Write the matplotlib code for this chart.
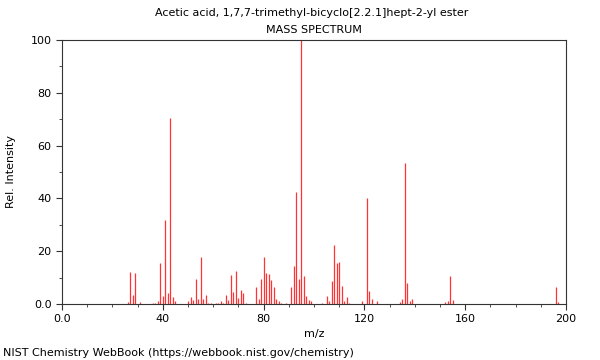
import matplotlib
matplotlib.use("Agg")
import matplotlib.pyplot as plt
from matplotlib.ticker import MultipleLocator, FixedFormatter, FixedLocator

title = "Acetic acid, 1,7,7-trimethyl-bicyclo[2.2.1]hept-2-yl ester"

mz = [26, 27, 28, 29, 31, 36, 37, 38, 39, 40, 41, 42, 43, 44, 45,
      50, 51, 52, 53, 54, 55, 56, 57, 58, 59, 61, 62, 63, 64, 65, 66, 67, 68, 69, 70, 71, 72, 73,
      77, 78, 79, 80, 81, 82, 83, 84, 85, 86, 87, 89, 91, 92, 93, 94, 95, 96, 97, 98, 99,
      103, 105, 106, 107, 108, 109, 110, 111, 112, 113, 114, 119, 121, 122, 123, 125,
      134, 135, 136, 137, 138, 139, 152, 153, 154, 155, 196, 197]
intensity = [0.8, 12.3, 3.4, 11.6, 0.8, 0.3, 0.5, 1.0, 15.6, 3.2, 32.0, 4.3, 70.5, 2.5, 1.1,
             1.1, 2.8, 1.5, 9.5, 1.9, 17.9, 2.0, 3.4, 0.4, 0.5, 0.4, 0.4, 1.0, 0.5, 3.4, 1.5, 11.0, 4.5, 12.5, 2.4, 5.3, 4.2, 0.4,
             6.6, 1.8, 9.5, 17.9, 11.6, 11.2, 9.1, 6.6, 2.0, 1.0, 0.5, 0.4, 6.3, 14.5, 42.4, 9.3, 100.0, 10.6, 3.0, 1.5, 1.3,
             0.5, 3.0, 1.0, 8.6, 22.3, 15.4, 16.0, 6.8, 1.0, 2.8, 0.4, 1.0, 40.0, 5.0, 2.0, 1.0,
             0.8, 1.9, 53.5, 8.0, 1.0, 2.0, 0.6, 1.0, 10.6, 1.5, 6.4, 0.8]

fig = plt.figure(figsize=(6, 3.6), dpi=100)
ax = fig.add_axes([62 / 600, 1 - 304 / 360, 504 / 600, 264 / 360])

ax.vlines(mz, 0, intensity, colors="#ff3333", linewidth=0.9)

ax.set_xlim(0, 200)
ax.set_ylim(0, 100)
ax.xaxis.set_major_locator(FixedLocator([0, 40, 80, 120, 160, 200]))
ax.xaxis.set_major_formatter(FixedFormatter(["0.0", "40", "80", "120", "160", "200"]))
ax.xaxis.set_minor_locator(MultipleLocator(10))
ax.yaxis.set_major_locator(FixedLocator([0, 20, 40, 60, 80, 100]))
ax.yaxis.set_major_formatter(FixedFormatter(["0.0", "20", "40", "60", "80", "100"]))
ax.yaxis.set_minor_locator(MultipleLocator(10))
ax.tick_params(labelsize=8, length=4, color="#333333")
ax.tick_params(which="minor", length=2, color="#333333")
for s in ax.spines.values():
    s.set_color("#333333")

ax.set_xlabel("m/z", fontsize=8, labelpad=3)
ax.set_ylabel("Rel. Intensity", fontsize=8, labelpad=10.5)

fig.text(312 / 600, 1 - 13 / 360, title, ha="center", va="center", fontsize=8)
fig.text(314 / 600, 1 - 30 / 360, "MASS SPECTRUM", ha="center", va="center", fontsize=8)
fig.text(3 / 600, 1 - 353 / 360, "NIST Chemistry WebBook (https://webbook.nist.gov/chemistry)",
         ha="left", va="center", fontsize=8)

fig.savefig("out.png", dpi=100)
